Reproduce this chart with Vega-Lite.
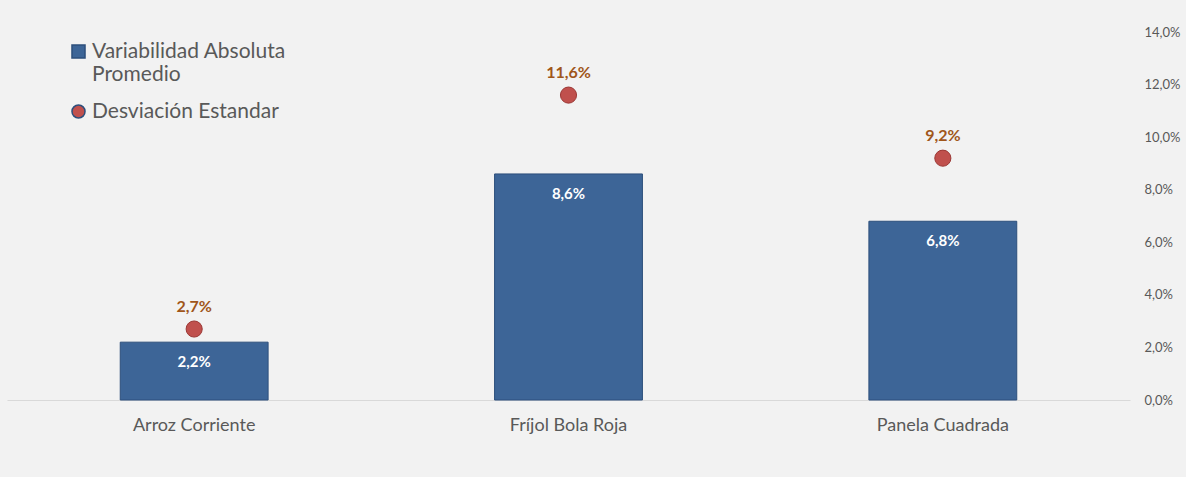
{
  "$schema": "https://vega.github.io/schema/vega-lite/v6.json",
  "autosize": "none",
  "width": 1123,
  "height": 368,
  "padding": {"left": 7, "top": 32, "right": 56, "bottom": 77},
  "background": "#f2f2f2",
  "config": {
    "locale": {"number": {"decimal": ",", "thousands": ".", "grouping": [3], "currency": ["$", ""]}},
    "view": {"stroke": null},
    "font": "Lato",
    "legend": {
      "title": null, "orient": "none", "legendX": 61, "legendY": 9,
      "labelFontSize": 21, "labelColor": "#595959", "labelFont": "Lato", "labelLimit": 400,
      "symbolSize": 170, "rowPadding": 15, "padding": 0, "labelOffset": 3
    }
  },
  "data": {
    "values": [
      {"producto": "Arroz Corriente", "serie": "Variabilidad Absoluta Promedio", "valor": 0.022},
      {"producto": "Fríjol Bola Roja", "serie": "Variabilidad Absoluta Promedio", "valor": 0.086},
      {"producto": "Panela Cuadrada", "serie": "Variabilidad Absoluta Promedio", "valor": 0.068},
      {"producto": "Arroz Corriente", "serie": "Desviación Estandar", "valor": 0.027},
      {"producto": "Fríjol Bola Roja", "serie": "Desviación Estandar", "valor": 0.116},
      {"producto": "Panela Cuadrada", "serie": "Desviación Estandar", "valor": 0.092}
    ]
  },
  "encoding": {
    "x": {
      "field": "producto", "type": "nominal", "sort": null,
      "scale": {"paddingInner": 0, "paddingOuter": 0},
      "axis": {"title": null, "labelAngle": 0, "ticks": false, "domainColor": "#d9d9d9", "labelColor": "#595959", "labelFontSize": 18, "labelPadding": 16, "labelFont": "Lato"}
    },
    "y": {
      "field": "valor", "type": "quantitative",
      "scale": {"domain": [0, 0.14], "nice": false},
      "axis": {"orient": "right", "title": null, "format": ".1%", "values": [0, 0.02, 0.04, 0.06, 0.08, 0.1, 0.12, 0.14], "grid": false, "domain": false, "ticks": false, "labelColor": "#595959", "labelFontSize": 13, "labelPadding": 14}
    }
  },
  "layer": [
    {
      "transform": [{"filter": "datum.serie == 'Variabilidad Absoluta Promedio'"}],
      "mark": {"type": "bar", "width": {"band": 0.395}, "stroke": "#2d4f7c", "strokeWidth": 1},
      "encoding": {
        "color": {
          "field": "serie", "type": "nominal",
          "scale": {"domain": ["Variabilidad Absoluta Promedio", "Desviación Estandar"], "range": ["#3d6597", "#c0504d"]},
          "legend": {
            "labelExpr": "datum.label == 'Variabilidad Absoluta Promedio' ? ['Variabilidad Absoluta', 'Promedio'] : datum.label"
          }
        }
      }
    },
    {
      "transform": [{"filter": "datum.serie == 'Variabilidad Absoluta Promedio'"}],
      "mark": {"type": "text", "baseline": "middle", "dy": 20, "color": "white", "fontWeight": "bold", "fontSize": 15},
      "encoding": {"text": {"field": "valor", "format": ".1%"}}
    },
    {
      "transform": [{"filter": "datum.serie == 'Desviación Estandar'"}],
      "mark": {"type": "point", "filled": true, "size": 260, "stroke": "#9b3734", "strokeWidth": 1, "opacity": 1},
      "encoding": {
        "color": {"field": "serie", "type": "nominal",
          "legend": {
            "labelExpr": "datum.label == 'Variabilidad Absoluta Promedio' ? ['Variabilidad Absoluta', 'Promedio'] : datum.label"
          }},
        "shape": {"field": "serie", "type": "nominal",
          "scale": {"domain": ["Variabilidad Absoluta Promedio", "Desviación Estandar"], "range": ["square", "circle"]},
          "legend": {
            "labelExpr": "datum.label == 'Variabilidad Absoluta Promedio' ? ['Variabilidad Absoluta', 'Promedio'] : datum.label"
          }}
      }
    },
    {
      "transform": [{"filter": "datum.serie == 'Desviación Estandar'"}],
      "mark": {"type": "text", "baseline": "middle", "dy": -22, "color": "#a0561a", "fontWeight": "bold", "fontSize": 16},
      "encoding": {"text": {"field": "valor", "format": ".1%"}}
    }
  ]
}
